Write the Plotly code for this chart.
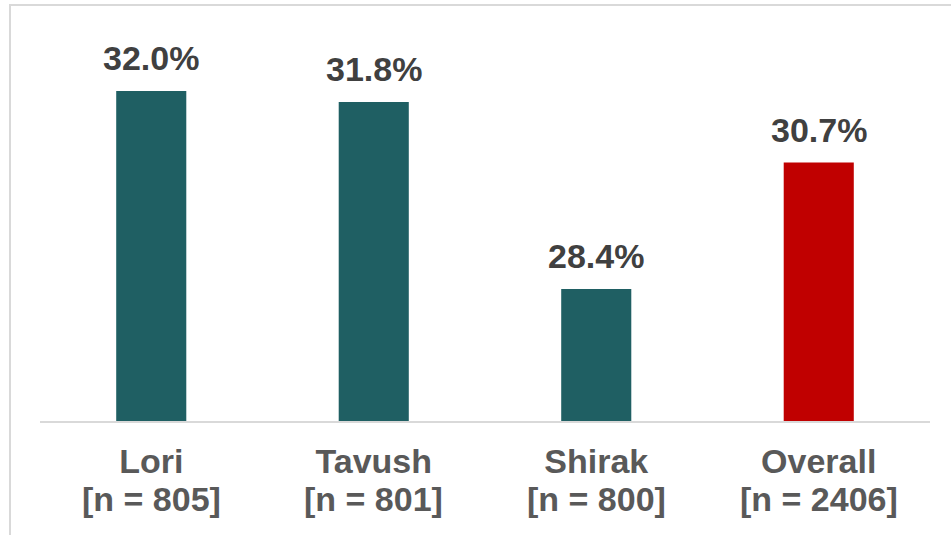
import plotly.graph_objects as go

categories = ["Lori", "Tavush", "Shirak", "Overall"]
sample_sizes = ["805", "801", "800", "2406"]
values = [32.0, 31.8, 28.4, 30.7]
bar_colors = ["#1f5f63", "#1f5f63", "#1f5f63", "#c00000"]

W, H = 951, 535
L, R, T, B = 40, 21, 36, 114
plot_h = H - T - B
FONT = "Liberation Sans, Arial"

fig = go.Figure()
fig.add_trace(go.Bar(
    x=categories,
    y=values,
    marker=dict(color=bar_colors, line=dict(width=0)),
    hoverinfo="skip",
))

annotations = []
for c, v in zip(categories, values):
    annotations.append(dict(
        x=c, xref="x", y=v, yref="y", yanchor="bottom", yshift=12,
        showarrow=False, text=f"{v:.1f}%",
        font=dict(family=FONT, size=34, color="#404040", weight="bold"),
    ))
for c, n in zip(categories, sample_sizes):
    annotations.append(dict(
        x=c, xref="x", y=(421 - 520) / plot_h,
        yref="paper", yanchor="bottom", showarrow=False,
        text=f"[n = {n}]",
        font=dict(family=FONT, size=34, color="#595959", weight="bold"),
    ))

fig.update_layout(
    width=W, height=H,
    margin=dict(l=L, r=R, t=T, b=B),
    paper_bgcolor="white", plot_bgcolor="white",
    showlegend=False,
    bargap=0.685,
    font=dict(family=FONT, weight="bold"),
    xaxis=dict(
        showline=True, linecolor="#d9d9d9", linewidth=2,
        showgrid=False, ticks="", zeroline=False,
        tickfont=dict(family=FONT, size=34, color="#595959", weight="bold"),
        ticklabelstandoff=9,
    ),
    yaxis=dict(
        range=[26, 33], visible=False, showgrid=False, zeroline=False,
    ),
    annotations=annotations,
    shapes=[dict(
        type="rect", xref="paper", yref="paper",
        x0=(10 - L) / (W - L - R), x1=1.2,
        y0=-0.6, y1=(421 - 5) / plot_h,
        line=dict(color="#d9d9d9", width=2), fillcolor="rgba(0,0,0,0)",
        layer="below",
    )],
)

fig.write_html(
    "out.html",
    config={"displayModeBar": False, "staticPlot": True},
    post_script="document.body.style.margin='0';document.body.style.overflow='hidden';",
)
